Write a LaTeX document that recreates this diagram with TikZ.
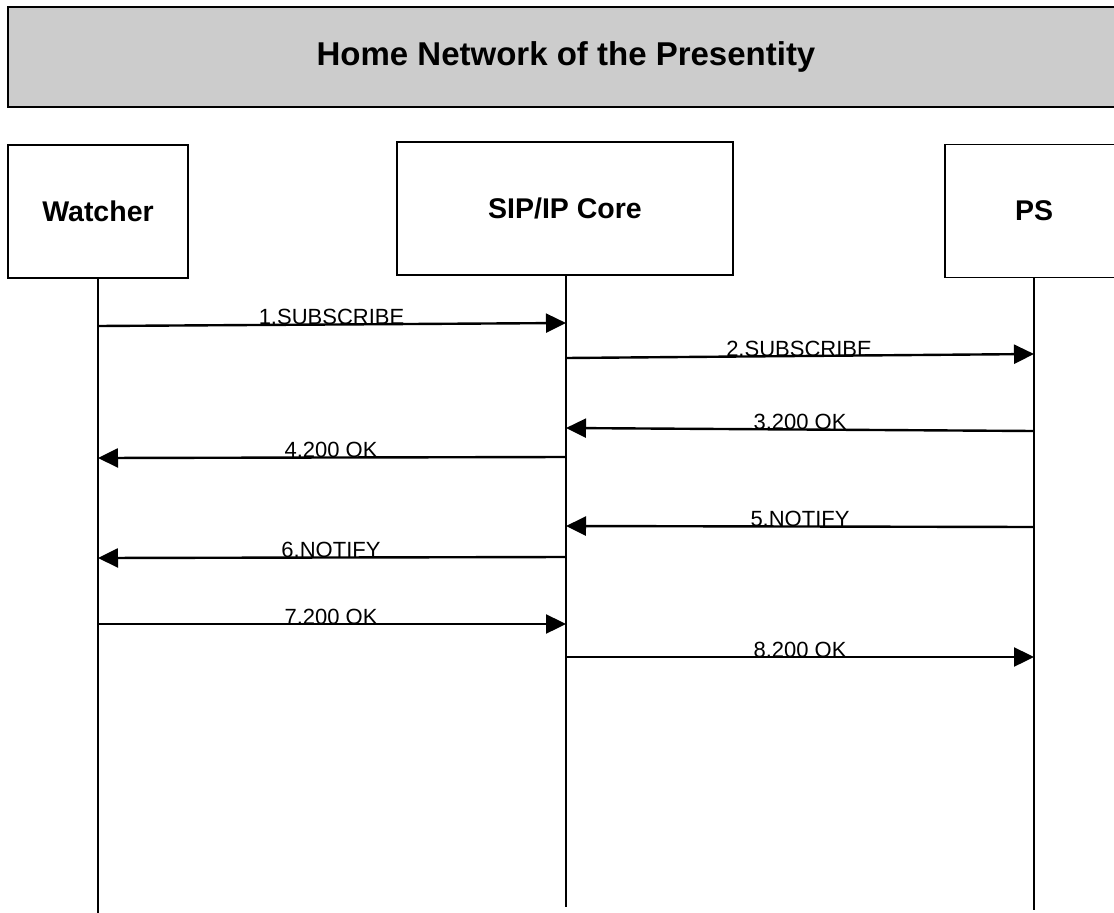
\documentclass[tikz,border=0pt]{standalone}
\usepackage{fontspec}
\setmainfont{Liberation Sans}
\usetikzlibrary{arrows.meta}
\begin{document}
\begin{tikzpicture}[x=1pt,y=-1pt,
  titlebox/.style={draw=black, line width=1.4pt, fill=black!20, inner sep=0pt,
    font=\fontsize{33}{38}\selectfont\bfseries},
  entity/.style={draw=black, line width=1.3pt, fill=white, inner sep=0pt,
    font=\fontsize{28.5}{32}\selectfont\bfseries},
  lifeline/.style={line width=1.2pt},
  msg/.style={line width=2.4pt, -{Triangle[length=20pt,width=19pt]}},
  lbl/.style={anchor=base, inner sep=0pt, font=\fontsize{22}{25}\selectfont}
]
\useasboundingbox (0,0) rectangle (1114,913);
\clip (0,0) rectangle (1114,913);
\fill[white] (0,0) rectangle (1114,913);

% title
\node[titlebox, minimum width=1116pt, minimum height=100pt] (title) at (566,57) {Home Network of the Presentity};

% entities
\node[entity, minimum width=180pt, minimum height=133pt] (watcher) at (98,211.5) {Watcher};
\node[entity, minimum width=336pt, minimum height=133pt] (core) at (565,208.5) {SIP/IP Core};
\node[entity, minimum width=178pt, minimum height=133pt] (ps) at (1034,211) {PS};

% lifeline ends
\coordinate (wend) at (98,913);
\coordinate (cend) at (566,907);
\coordinate (pend) at (1034,910);
\draw[lifeline] (watcher.south) -- (wend);
\draw[lifeline] (core.south -| cend) -- (cend);
\draw[lifeline] (ps.south) -- (pend);

% message end points
\coordinate (w1) at (98,326);  \coordinate (c1) at (566,323);
\coordinate (c2) at (566,358); \coordinate (p2) at (1034,354);
\coordinate (p3) at (1034,431);\coordinate (c3) at (566,428);
\coordinate (c4) at (566,457); \coordinate (w4) at (98,458);
\coordinate (p5) at (1034,527);\coordinate (c5) at (566,526);
\coordinate (c6) at (566,557); \coordinate (w6) at (98,558);
\coordinate (w7) at (98,624);  \coordinate (c7) at (566,624);
\coordinate (c8) at (566,657); \coordinate (p8) at (1034,657);

\draw[msg] (w1) -- (c1);
\node[lbl] (l1) at (331.5,324.5) {1.SUBSCRIBE};
\draw[msg] (c2) -- (p2);
\node[lbl] (l2) at (799,356) {2.SUBSCRIBE};
\draw[msg] (p3) -- (c3);
\node[lbl] (l3) at (800,429.5) {3.200 OK};
\draw[msg] (c4) -- (w4);
\node[lbl] (l4) at (331,457.5) {4.200 OK};
\draw[msg] (p5) -- (c5);
\node[lbl] (l5) at (800,526.5) {5.NOTIFY};
\draw[msg] (c6) -- (w6);
\node[lbl] (l6) at (331,557.5) {6.NOTIFY};
\draw[msg] (w7) -- (c7);
\node[lbl] (l7) at (331,624) {7.200 OK};
\draw[msg] (c8) -- (p8);
\node[lbl] (l8) at (800,657) {8.200 OK};
\end{tikzpicture}
\end{document}
